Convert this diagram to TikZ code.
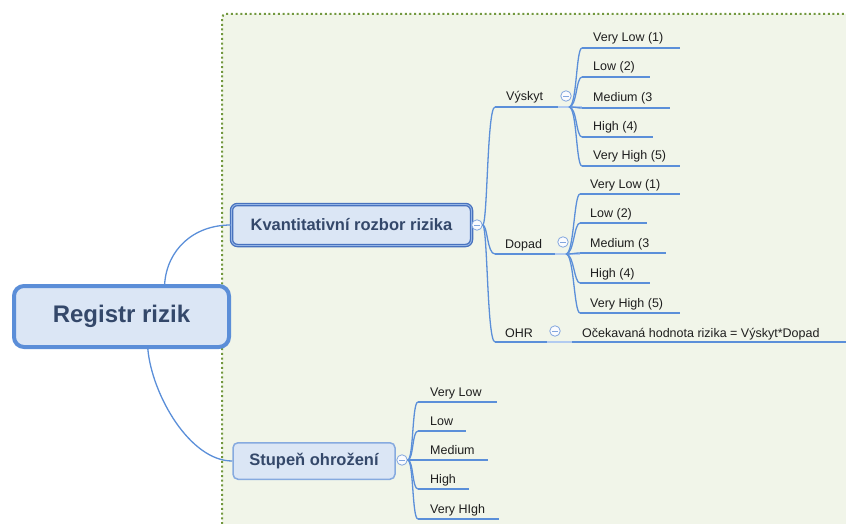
\documentclass[tikz,border=0pt]{standalone}
\usepackage{fontspec}
\setmainfont{Liberation Sans}
\definecolor{linkblue}{RGB}{91,143,217}
\definecolor{faintblue}{RGB}{178,203,240}
\definecolor{boxfill}{RGB}{219,230,245}
\definecolor{rootdraw}{RGB}{91,142,216}
\definecolor{kvdraw}{RGB}{72,114,190}
\definecolor{kvinner}{RGB}{150,182,230}
\definecolor{stdraw}{RGB}{134,170,223}
\definecolor{boxtext}{RGB}{52,72,106}
\definecolor{leaftext}{RGB}{30,30,30}
\definecolor{areabg}{RGB}{241,245,233}
\definecolor{areadot}{RGB}{114,152,62}
\definecolor{knob}{RGB}{130,166,222}
\begin{document}
\begin{tikzpicture}[x=1pt,y=-1pt,
  twig/.style={draw=linkblue,line width=1.3pt},
  bar/.style={draw=linkblue,line width=2.3pt},
  faint/.style={draw=faintblue,line width=2.3pt},
  leaf/.style={anchor=base west,inner sep=0pt,text=leaftext,font=\fontsize{12.5}{15}\selectfont},
  rootbox/.style={draw=rootdraw,line width=4pt,fill=boxfill,rounded corners=10pt,
    minimum width=215pt,minimum height=61pt,inner sep=0pt,text=boxtext,
    font=\fontsize{24}{28}\selectfont\bfseries},
  kvbox/.style={draw=kvdraw,double=kvinner,double distance=0.9pt,line width=1.3pt,
    fill=boxfill,rounded corners=6pt,minimum width=240pt,minimum height=41pt,
    inner sep=0pt,text=boxtext,font=\fontsize{16.5}{20}\selectfont\bfseries},
  stbox/.style={draw=stdraw,line width=1.5pt,fill=boxfill,rounded corners=5pt,
    minimum width=162pt,minimum height=36.5pt,inner sep=0pt,text=boxtext,
    font=\fontsize{16.5}{20}\selectfont\bfseries},
  collapse/.style={circle,draw=knob,fill=white!85!boxfill,line width=0.8pt,
    minimum size=10.5pt,inner sep=0pt,
    path picture={\draw[knob,line width=0.8pt]
      ([xshift=-2.6pt]path picture bounding box.center) --
      ([xshift=2.6pt]path picture bounding box.center);}}
]
\useasboundingbox (0,0) rectangle (846,524);

% dotted area behind the branches
\fill[areabg] (846,524) -- (846,14) [rounded corners=4pt] -- (222,14) [sharp corners] -- (222,524) -- cycle;
\draw[areadot,line width=2pt,dash pattern=on 2pt off 2.7pt,rounded corners=4pt]
  (222,524) -- (222,14) -- (846,14);

% main topics
\node[rootbox] (root) at (121.5,316.5) {Registr rizik};
\node[kvbox] (kv) at (351.5,225) {Kvantitativní rozbor rizika};
\node[stbox] (st) at (314,461) {Stupeň ohrožení};

\draw[twig] (root.37) .. controls (167,250) and (193,225) .. (kv.west);
\draw[twig] (root.-51) .. controls (152,395) and (190,461) .. (st.west);

% knobs
\node[collapse] (kc) at (477,225) {};
\node[collapse] (sc) at (402,460) {};
\node[collapse] (vyc) at (566,96) {};
\node[collapse] (dpc) at (563,242) {};
\node[collapse] (ohc) at (555,331) {};

% --- Kvantitativní rozbor rizika ---
\node[leaf] (vy) at (506,101) {Výskyt};
\node[leaf] (dp) at (505,248) {Dopad};
\node[leaf] (oh) at (505,337) {OHR};
\node[leaf] (ohv) at (582,337) {Očekavaná hodnota rizika = Výskyt*Dopad};

\coordinate (vyS) at (495,107); \coordinate (vyE) at (558,107); \coordinate (vyO) at (582,107);
\coordinate (dpS) at (495,254); \coordinate (dpE) at (555,254); \coordinate (dpO) at (580,254);
\coordinate (ohS) at (495,342); \coordinate (ohE) at (547,342);
\coordinate (ohT) at (572,342); \coordinate (ohZ) at (846,342);

\draw[twig] (kc.east) .. controls +(5,0) and +(-8,0) .. (vyS);
\draw[twig] (kc.east) .. controls +(5,0) and +(-8,0) .. (dpS);
\draw[twig] (kc.east) .. controls +(5,0) and +(-8,0) .. (ohS);
\draw[bar] (vyS) -- (vyE);
\draw[faint] (vyE) -- (vyO);
\draw[bar] (dpS) -- (dpE);
\draw[faint] (dpE) -- (dpO);
\draw[bar] (ohS) -- (ohE);
\draw[faint] (ohE) -- (ohT);
\draw[bar] (ohT) -- (ohZ);

% Výskyt scale
\coordinate (vyR) at (569,107);
\foreach \n/\y/\e/\t in {1/48/680/Very Low (1),2/77/650/Low (2),3/108/670/Medium (3,
    4/137/653/High (4),5/166/680/Very High (5)}{
  \coordinate (vy\n S) at (582,\y);
  \coordinate (vy\n E) at (\e,\y);
  \node[leaf] (vy\n) at (593,\y-6) {\t};
  \draw[twig] (vyR) .. controls +(8,0) and +(-6,0) .. (vy\n S);
  \draw[bar] (vy\n S) -- (vy\n E);
}

% Dopad scale
\coordinate (dpR) at (566,254);
\foreach \n/\y/\e/\t in {1/194/680/Very Low (1),2/223/647/Low (2),3/253/666/Medium (3,
    4/283/650/High (4),5/313/680/Very High (5)}{
  \coordinate (dp\n S) at (580,\y);
  \coordinate (dp\n E) at (\e,\y);
  \node[leaf] (dp\n) at (590,\y-6) {\t};
  \draw[twig] (dpR) .. controls +(8,0) and +(-6,0) .. (dp\n S);
  \draw[bar] (dp\n S) -- (dp\n E);
}

% --- Stupeň ohrožení ---
\foreach \n/\y/\e/\t in {1/402/497/Very Low,2/431/466/Low,3/460/488/Medium,
    4/489/469/High,5/519/499/Very HIgh}{
  \coordinate (st\n S) at (418,\y);
  \coordinate (st\n E) at (\e,\y);
  \node[leaf] (st\n) at (430,\y-6) {\t};
  \draw[twig] (sc.east) .. controls +(6,0) and +(-6,0) .. (st\n S);
  \draw[bar] (st\n S) -- (st\n E);
}
\end{tikzpicture}
\end{document}
